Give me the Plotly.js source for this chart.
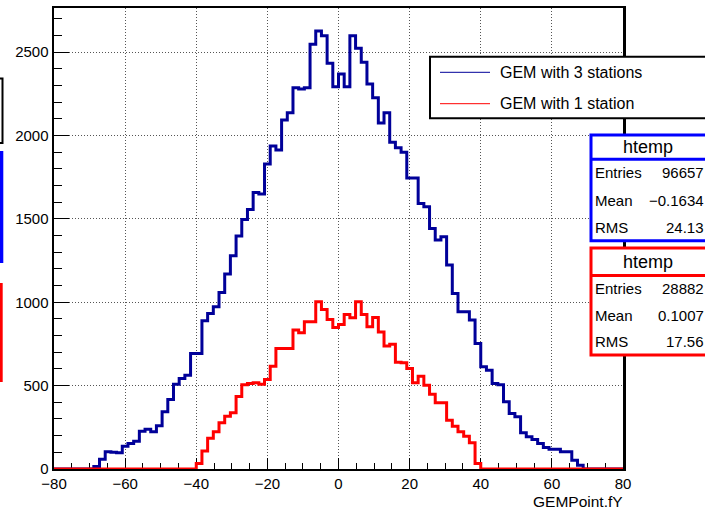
<!DOCTYPE html>
<html>
<head>
<meta charset="utf-8">
<script src="https://cdn.plot.ly/plotly-3.0.1.min.js"></script>
<style>html,body{margin:0;padding:0;background:#fff;}#plot{width:705px;height:512px;}</style>
</head>
<body>
<div id="plot"></div>
<script>
// Histogram binning (ROOT default: 100 bins over the axis range)
const xMin = -80;
const binWidth = 1.6;
const nBins = 100;

// Bin contents, "GEM with 3 stations" (htemp, blue)
const blueCounts = [
  0, 0, 0, 0, 0, 0, 0, 15, 59, 103,
  100, 97, 137, 153, 167, 227, 239, 223, 259, 343,
  417, 509, 543, 563, 693, 693, 889, 933, 973, 1059,
  1169, 1279, 1397, 1497, 1557, 1659, 1649, 1829, 1937, 1913,
  2093, 2137, 2287, 2279, 2287, 2547, 2627, 2599, 2433, 2293,
  2369, 2293, 2599, 2523, 2439, 2309, 2227, 2075, 2137, 1960,
  1927, 1900, 1745, 1745, 1593, 1573, 1443, 1373, 1393, 1223,
  1053, 943, 943, 893, 753, 613, 593, 513, 505, 403,
  333, 313, 217, 193, 177, 153, 129, 119, 119, 103,
  103, 53, 23, 0, 0, 0, 0, 0, 0, 0
];

// Bin contents, "GEM with 1 station" (htemp, red)
const redCounts = [
  0, 0, 0, 0, 0, 0, 0, 0, 0, 0,
  0, 0, 0, 0, 0, 0, 0, 0, 0, 0,
  0, 0, 0, 0, 0, 33, 108, 185, 223, 277,
  317, 337, 435, 506, 513, 517, 509, 537, 617, 723,
  723, 723, 833, 817, 883, 883, 1003, 957, 897, 849,
  867, 927, 907, 1003, 927, 853, 909, 821, 738, 748,
  640, 637, 603, 517, 557, 503, 449, 397, 397, 293,
  257, 223, 197, 157, 33, 0, 0, 0, 0, 0,
  0, 0, 0, 0, 0, 0, 0, 0, 0, 0,
  0, 0, 0, 0, 0, 0, 0, 0, 0, 0
];

const seriesNames = ["GEM with 3 stations", "GEM with 1 station"];
const statTitle = "htemp";
const statLabels = ["Entries", "Mean", "RMS"];
const blueStats = ["96657", "\u22120.1634", "24.13"];
const redStats = ["28882", "0.1007", "17.56"];
const xTitle = "GEMPoint.fY";

// ---- build step outlines from bins ----
const edges = [];
for (let k = 0; k <= nBins; k++) edges.push(+(xMin + k * binWidth).toFixed(4));
function stepY(c) { return c.concat([c[c.length - 1]]); }

const FONT = "Liberation Sans, Arial, Helvetica, sans-serif";
const BLUE_H = "#000099";

const traces = [
  { type: "scatter", mode: "lines", x: edges, y: stepY(blueCounts), name: seriesNames[0],
    line: { shape: "hv", color: BLUE_H, width: 3 }, hoverinfo: "skip" },
  { type: "scatter", mode: "lines", x: edges, y: stepY(redCounts), name: seriesNames[1],
    line: { shape: "hv", color: "#ff0000", width: 3 }, hoverinfo: "skip" }
];

// pixel -> paper helpers for the overlay boxes
const M = { l: 54, r: 82, t: 8, b: 43 };
const PW = 705 - M.l - M.r, PH = 512 - M.t - M.b;
const px = v => (v - M.l) / PW;
const py = v => (M.t + PH - v) / PH;

const shapes = [];
const annotations = [];
function rect(x0, y0, x1, y1, line, fill) {
  shapes.push({ type: "rect", xref: "paper", yref: "paper", x0: px(x0), x1: px(x1), y0: py(y0), y1: py(y1),
    line: line, fillcolor: fill, layer: "above" });
}
function hline(x0, x1, y, color, w) {
  shapes.push({ type: "line", xref: "paper", yref: "paper", x0: px(x0), x1: px(x1), y0: py(y), y1: py(y),
    line: { color: color, width: w }, layer: "above" });
}
function text(t, x, y, anchor, size) {
  annotations.push({ text: t, xref: "paper", yref: "paper", x: px(x), y: py(y), xanchor: anchor, yanchor: "middle",
    showarrow: false, font: { family: FONT, size: size, color: "#000" }, borderpad: 0 });
}

// legend
rect(430, 56.7, 730, 118.3, { color: "#000", width: 2 }, "#fff");
hline(440, 490, 72.3, BLUE_H, 1);
hline(440, 490, 103.7, "#ff0000", 1);
text(seriesNames[0], 498.5, 72.3, "left", 16);
text(seriesNames[1], 498.5, 103.7, "left", 16);

// stat boxes
function statBox(top, sep, bottom, color, vals) {
  rect(591, top, 730, bottom, { color: color, width: 3 }, "#fff");
  hline(591, 730, sep, color, 3);
  text(statTitle, 648, (top + sep) / 2, "center", 18);
  const rowH = (bottom - sep) / 3;
  for (let i = 0; i < 3; i++) {
    const yy = sep + rowH * (i + 0.5);
    text(statLabels[i], 594, yy, "left", 15);
    text(vals[i], 704.5, yy, "right", 15);
  }
}
statBox(135, 159.3, 240.8, "#0000ff", blueStats);
statBox(248, 275.6, 355, "#ff0000", redStats);

// partially visible boxes at the left edge
rect(-30, 78.5, 2.5, 143, { color: "#000", width: 2 }, "#fff");
rect(0, 151, 3.3, 263, { width: 0 }, "#0000ff");
rect(0, 283, 2.7, 382, { width: 0 }, "#ff0000");

// x-axis title (right aligned like ROOT)
text(xTitle, 624, 501.7, "right", 15.5);

const axisCommon = {
  ticks: "inside", tickcolor: "#000", tickwidth: 1,
  showline: true, linecolor: "#000", mirror: true,
  showgrid: true, gridcolor: "#555", gridwidth: 1, griddash: "1px,2px",
  zeroline: false, layer: "below traces",
  tickfont: { family: FONT, size: 15, color: "#000" }
};

const layout = {
  width: 705, height: 512,
  margin: { l: M.l, r: M.r, t: M.t, b: M.b, pad: 0 },
  paper_bgcolor: "#fff", plot_bgcolor: "#fff",
  showlegend: false,
  font: { family: FONT, color: "#000" },
  xaxis: Object.assign({}, axisCommon, {
    range: [-80, 80], tick0: -80, dtick: 20, ticklen: 11, linewidth: 2,
    minor: { dtick: 5, ticks: "inside", ticklen: 6, tickcolor: "#000", tickwidth: 1, showgrid: false }
  }),
  yaxis: Object.assign({}, axisCommon, {
    range: [0, 2765], tick0: 0, dtick: 500, ticklen: 15, linewidth: 2.5,
    minor: { dtick: 100, ticks: "inside", ticklen: 8, tickcolor: "#000", tickwidth: 1, showgrid: false }
  }),
  shapes: shapes,
  annotations: annotations
};

Plotly.newPlot("plot", traces, layout, { staticPlot: true, displayModeBar: false });
</script>
</body>
</html>
